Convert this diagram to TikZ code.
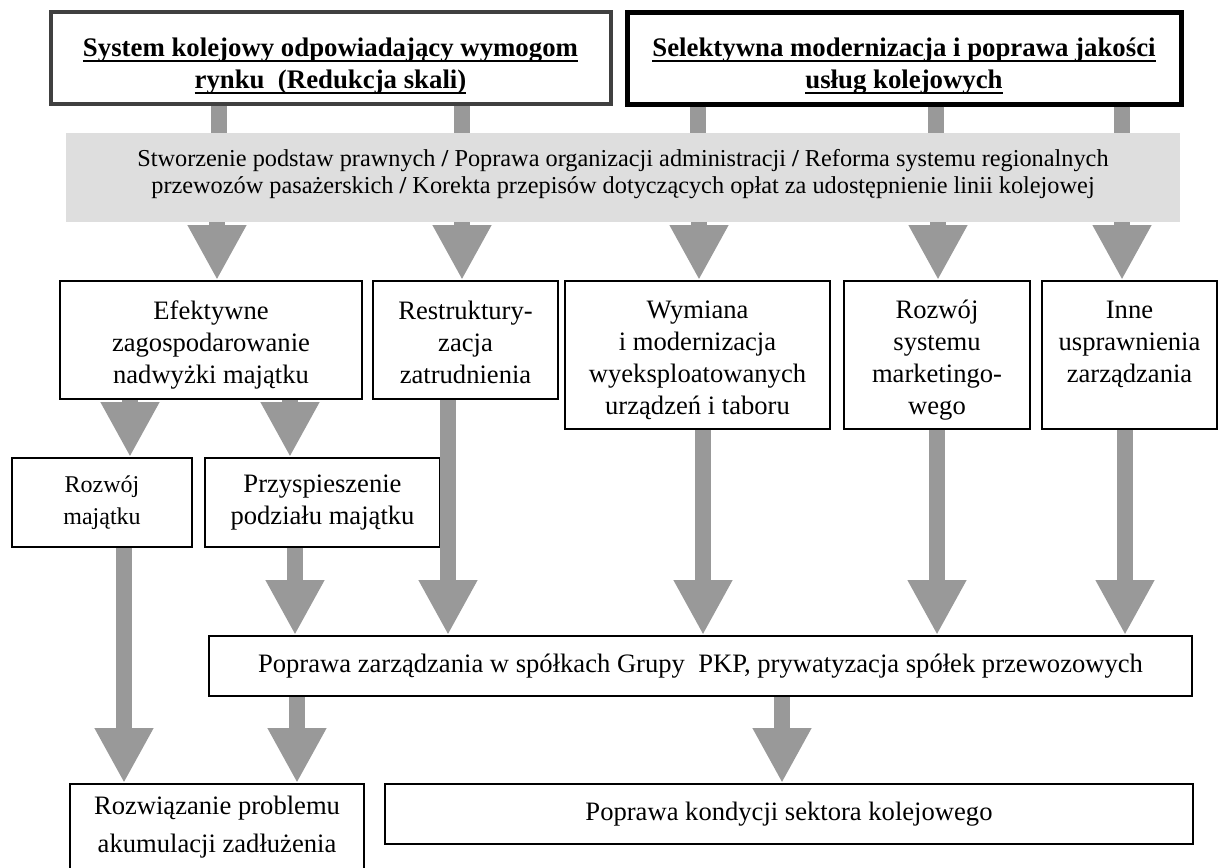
\documentclass[tikz,border=0pt]{standalone}
\usepackage{fontspec}
\setmainfont{Liberation Serif}
\usetikzlibrary{arrows.meta}

\definecolor{arrowgray}{gray}{0.6}
\definecolor{bandgray}{gray}{0.87}
\definecolor{framegray}{gray}{0.25}

% text lines lowered inside their box
\newcommand{\lowered}[2]{\raisebox{-#1}[\height][\depth]{\begin{tabular}{@{}c@{}}#2\end{tabular}}}
% thick underline of the goals
\newcommand{\goalline}[1]{{\setbox0\hbox{#1}\rlap{\rule[-3pt]{\wd0}{1.1pt}}\box0}}

\tikzset{
	box/.style = {draw, line width = 1pt, align = center, inner sep = 0pt, font = \fontsize{13.3}{16}\selectfont},
	goal/.style = {draw, line width = 2.5pt, align = center, inner sep = 0pt, font = \fontsize{13.4}{16}\selectfont\bfseries},
	stem/.style = {draw = arrowgray, line width = 8pt},
	arr/.style = {stem, -{Triangle[width = 27.5pt, length = 27.5pt]}}
}

\begin{document}
\begin{tikzpicture}[x = 0.5pt, y = -0.5pt]
	\useasboundingbox (0,0) rectangle (1219,867);

	% goals
	\node [goal, draw = framegray, line width = 2pt, minimum width = 280pt, minimum height = 46pt] (goalA) at (330.5,58) {\lowered{4pt}{\goalline{System kolejowy odpowiadający wymogom}\\\goalline{rynku\ \ (Redukcja skali)}}};
	\node [goal, minimum width = 277pt, minimum height = 46pt] (goalB) at (904,58) {\lowered{4pt}{\goalline{Selektywna modernizacja i poprawa jakości}\\\goalline{usług kolejowych}}};

	% measures band
	\node [fill = bandgray, inner sep = 0pt, minimum width = 557pt, minimum height = 44.5pt] (band) at (623,177.5) {};
	\node [align = center, inner sep = 0pt, font = \fontsize{12.15}{13.5}\selectfont] (bandtext) at (623,174) {Stworzenie podstaw prawnych {\bfseries /} Poprawa organizacji administracji {\bfseries /} Reforma systemu regionalnych\\przewozów pasażerskich {\bfseries /} Korekta przepisów dotyczących opłat za udostępnienie linii kolejowej};

	% actions
	\node [box, minimum width = 151pt, minimum height = 59pt] (assets) at (211,340) {\lowered{2.5pt}{Efektywne\\zagospodarowanie\\nadwyżki majątku}};
	\node [box, minimum width = 92.5pt, minimum height = 59pt] (staff) at (465.5,340) {\lowered{2.5pt}{Restruktury-\\zacja\\zatrudnienia}};
	\node [box, minimum width = 132.5pt, minimum height = 74pt] (rolling) at (697.5,355) {\lowered{2.5pt}{Wymiana\\i modernizacja\\wyeksploatowanych\\urządzeń i taboru}};
	\node [box, minimum width = 93pt, minimum height = 74pt] (marketing) at (937,355) {\lowered{2.5pt}{Rozwój\\systemu\\marketingo-\\wego}};
	\node [box, minimum width = 87.5pt, minimum height = 74pt] (mgmt) at (1129.5,355) {\lowered{2.5pt}{Inne\\usprawnienia\\zarządzania\\\mbox{}}};

	% assets
	\node [box, font = \fontsize{12}{16}\selectfont, minimum width = 90pt, minimum height = 44.5pt] (growth) at (102,502.5) {Rozwój\\majątku};
	\node [box, minimum width = 117.5pt, minimum height = 44.5pt] (split) at (322.5,502.5) {Przyspieszenie\\podziału majątku};

	% results
	\node [box, minimum width = 491.5pt, minimum height = 30pt] (groupPKP) at (700.5,666) {Poprawa zarządzania w spółkach Grupy\ \ PKP, prywatyzacja spółek przewozowych};
	\node [box, font = \fontsize{13.3}{19}\selectfont, minimum width = 147pt, minimum height = 43pt] (debt) at (217,827) {Rozwiązanie problemu\\akumulacji zadłużenia};
	\node [box, minimum width = 404pt, minimum height = 30pt] (sector) at (789,814) {Poprawa kondycji sektora kolejowego};

	% goals to band
	\foreach \cx in {219,462}
		\draw [stem] (\cx,0 |- goalA.south) -- (\cx,0 |- band.north);
	\foreach \cx in {698,936,1122}
		\draw [stem] (\cx,0 |- goalB.south) -- (\cx,0 |- band.north);

	% band to actions
	\draw [arr] (217,0 |- band.south) -- (217,0 |- assets.north);
	\draw [arr] (462,0 |- band.south) -- (462,0 |- staff.north);
	\draw [arr] (699,0 |- band.south) -- (699,0 |- rolling.north);
	\draw [arr] (938,0 |- band.south) -- (938,0 |- marketing.north);
	\draw [arr] (1122,0 |- band.south) -- (1122,0 |- mgmt.north);

	% actions to lower boxes
	\draw [arr] (130,0 |- assets.south) -- (130,0 |- growth.north);
	\draw [arr] (290,0 |- assets.south) -- (290,0 |- split.north);
	\draw [arr] (124,0 |- growth.south) -- (124,0 |- debt.north);
	\draw [arr] (295,0 |- split.south) -- (295,0 |- groupPKP.north);
	\draw [arr] (448,0 |- staff.south) -- (448,0 |- groupPKP.north);
	\draw [arr] (703,0 |- rolling.south) -- (703,0 |- groupPKP.north);
	\draw [arr] (937,0 |- marketing.south) -- (937,0 |- groupPKP.north);
	\draw [arr] (1125,0 |- mgmt.south) -- (1125,0 |- groupPKP.north);
	\draw [arr] (297,0 |- groupPKP.south) -- (297,0 |- debt.north);
	\draw [arr] (782,0 |- groupPKP.south) -- (782,0 |- sector.north);

\end{tikzpicture}
\end{document}
